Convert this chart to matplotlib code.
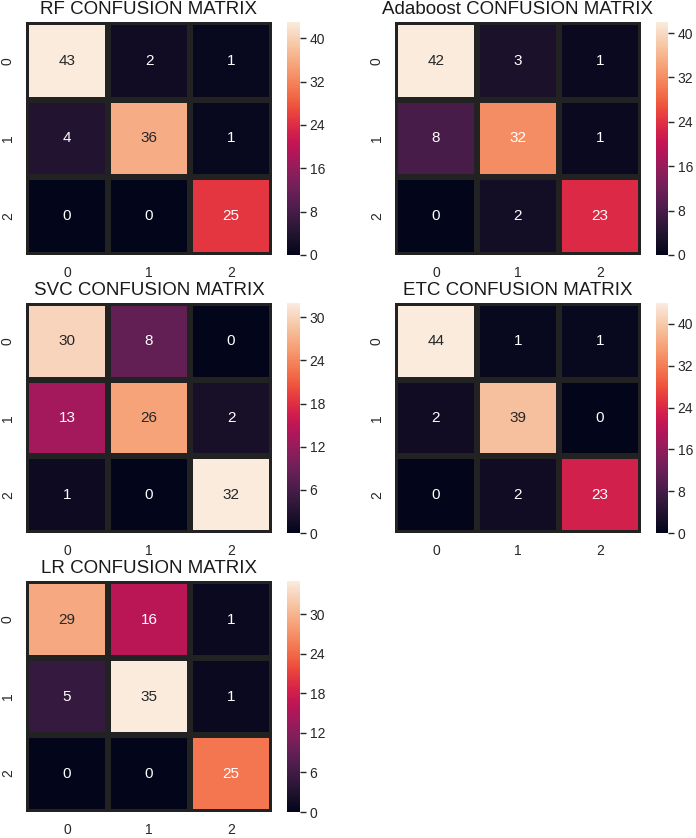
import numpy as np
import matplotlib
matplotlib.use("Agg")
import matplotlib.pyplot as plt
import seaborn as sns

# confusion matrices
rf_cm = [[43, 2, 1], [4, 36, 1], [0, 0, 25]]
ada_cm = [[42, 3, 1], [8, 32, 1], [0, 2, 23]]
svc_cm = [[30, 8, 0], [13, 26, 2], [1, 0, 32]]
etc_cm = [[44, 1, 1], [2, 39, 0], [0, 2, 23]]
lr_cm = [[29, 16, 1], [5, 35, 1], [0, 0, 25]]

names = ["RF", "Adaboost", "SVC", "ETC", "LR"]
matrices = [rf_cm, ada_cm, svc_cm, etc_cm, lr_cm]
cbar_steps = [8, 8, 6, 8, 6]

sns.set_style("white")
plt.rcParams["font.family"] = ["Liberation Sans", "DejaVu Sans"]

W, H = 696, 838
fig = plt.figure(figsize=(W / 100, H / 100), dpi=100)

# pixel boxes for heatmaps and their colorbars
col_x = [(26, 272, 287, 300), (395, 641, 656, 668)]
row_y = [(22, 255), (303, 533), (581, 812)]

def box(x0, y0, x1, y1):
    return [x0 / W, 1 - y1 / H, (x1 - x0) / W, (y1 - y0) / H]

for i, (name, cm) in enumerate(zip(names, matrices)):
    r, c = divmod(i, 2)
    hx0, hx1, cx0, cx1 = col_x[c]
    y0, y1 = row_y[r]
    ax = fig.add_axes(box(hx0, y0, hx1, y1))
    cax = fig.add_axes(box(cx0, y0, cx1, y1))
    cm = np.array(cm)
    sns.heatmap(cm, annot=True, fmt="d", cmap="rocket", linewidths=3,
                linecolor="#222222", ax=ax, cbar_ax=cax,
                annot_kws={"fontsize": 11})
    ax.set_title(name + " CONFUSION MATRIX", fontsize=13.5, color="#1a1a1a")
    ax.tick_params(axis="both", length=0, pad=8, labelsize=10,
                   labelcolor="#262626")
    for lab in ax.get_yticklabels():
        lab.set_rotation(90)
        lab.set_va("center")
    step = cbar_steps[i]
    cax.set_yticks(np.arange(0, cm.max() + 1, step))
    cax.tick_params(axis="y", right=True, length=4, width=1, color="#262626",
                    pad=3, labelsize=10, labelcolor="#262626")

fig.savefig("out.png", dpi=100)
